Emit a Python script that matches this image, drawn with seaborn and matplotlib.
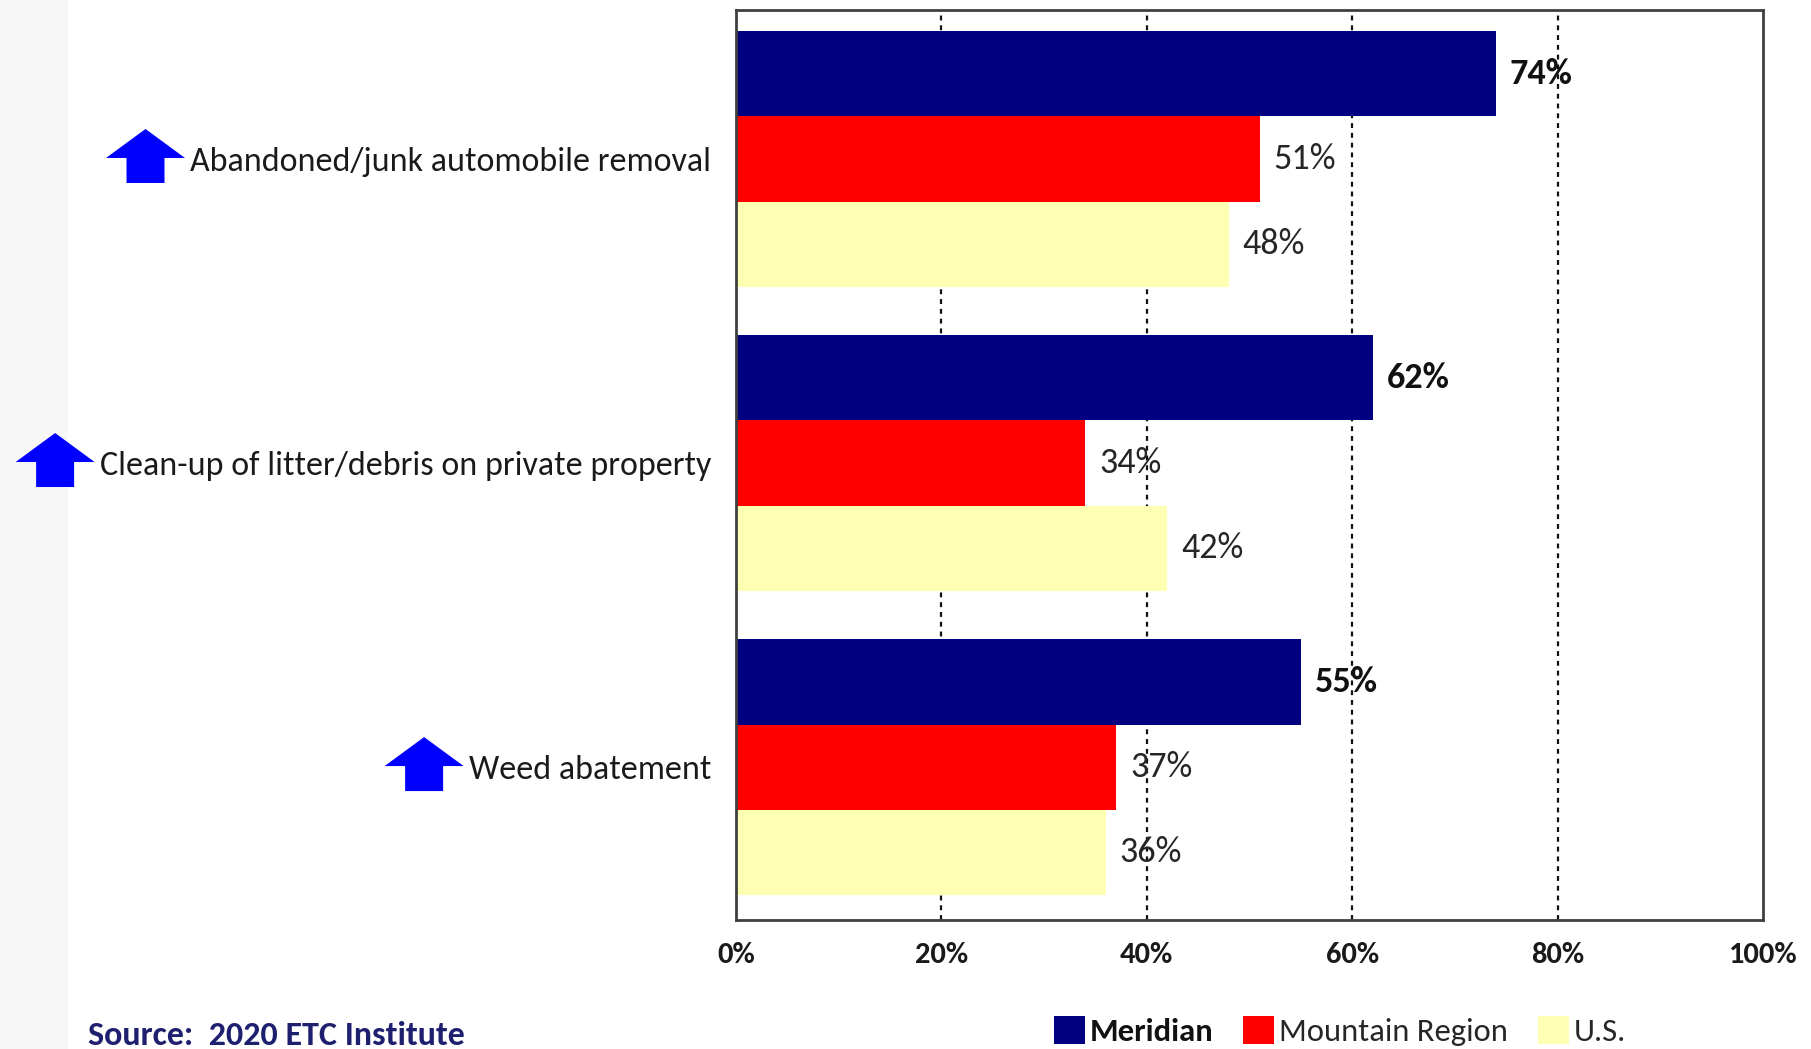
import matplotlib
matplotlib.use("Agg")
import matplotlib.pyplot as plt
from matplotlib import font_manager
from matplotlib.patches import Polygon, Rectangle
import seaborn as sns
import pandas as pd

# ---- data ----
categories = [
    "Abandoned/junk automobile removal",
    "Clean-up of litter/debris on private property",
    "Weed abatement",
]
series = ["Meridian", "Mountain Region", "U.S."]
meridian = [74, 62, 55]
mountain_region = [51, 34, 37]
us = [48, 42, 36]
tick_values = [0, 20, 40, 60, 80, 100]
tick_labels = ["0%", "20%", "40%", "60%", "80%", "100%"]
source_text = "Source:  2020 ETC Institute"

colors = ["#000080", "#FF0000", "#FFFFB3"]

rows = []
for cat, a, b, c in zip(categories, meridian, mountain_region, us):
    for s, v in zip(series, (a, b, c)):
        rows.append({"Category": cat, "Series": s, "Value": v})
df = pd.DataFrame(rows)


def pick_font(*names):
    available = {f.name for f in font_manager.fontManager.ttflist}
    for n in names:
        if n in available:
            return n
    return "DejaVu Sans"


body_font = pick_font("Carlito", "Lato", "Open Sans", "DejaVu Sans")
narrow_font = pick_font("Carlito", "Liberation Sans Narrow", "Lato", "DejaVu Sans")

sns.set_theme(style="white")
plt.rcParams["font.family"] = [body_font, "DejaVu Sans"]

W, H = 1811, 1049
fig = plt.figure(figsize=(W / 100, H / 100), dpi=100)
fig.patch.set_facecolor("white")

# faint band along the left edge of the slide
fig.add_artist(Rectangle((0, 0), 68 / W, 1, transform=fig.transFigure,
                         facecolor="#F7F7F7", edgecolor="none", zorder=0))

ax = fig.add_axes([736 / W, 1 - 920 / H, (1763 - 736) / W, (920 - 10) / H])

# dashed reference lines sit behind the bars
for t in tick_values[1:-1]:
    ax.axvline(t, color="#111111", linestyle=(0, (2.2, 2.2)), linewidth=1.6, zorder=0)

sns.barplot(data=df, y="Category", x="Value", hue="Series", order=categories,
            hue_order=series, palette=colors, orient="h", width=0.84,
            saturation=1, linewidth=0, ax=ax, legend=True, zorder=2)

ax.set_xlim(0, 100)
ax.set_ylim(2.503, -0.49)
ax.set_xlabel("")
ax.set_ylabel("")
ax.set_xticks(tick_values)
ax.set_xticklabels(tick_labels, fontfamily=narrow_font, fontweight="bold",
                   fontsize=22, color="#1a1a1a")
ax.tick_params(axis="x", length=0, pad=16)
ax.tick_params(axis="y", length=0, pad=18)
for lab in ax.get_yticklabels():
    lab.set_fontsize(24.5)
    lab.set_color("#1a1a1a")

for sp in ax.spines.values():
    sp.set_visible(True)
    sp.set_color("#404040")
    sp.set_linewidth(2)

# value labels at the end of each bar
for container, s in zip(ax.containers, series):
    bold = s == "Meridian"
    for rect, v in zip(container.patches, df[df["Series"] == s]["Value"]):
        y = rect.get_y() + rect.get_height() / 2
        ax.annotate(f"{v}%", xy=(rect.get_width(), y), xytext=(10, 0),
                    textcoords="offset points", va="center", ha="left",
                    fontsize=26, fontweight="bold" if bold else "normal",
                    color="#111111" if bold else "#262626", zorder=4)

# legend along the bottom
handles, labels = ax.get_legend_handles_labels()
ax.get_legend().remove()
leg = fig.legend(handles, labels, loc="center", bbox_to_anchor=(1340 / W, 1 - 1031 / H),
                 ncol=3, frameon=False, fontsize=23.5, handlelength=0.95,
                 handleheight=0.95, handletextpad=0.15, columnspacing=0.9,
                 borderaxespad=0)
for txt in leg.get_texts():
    txt.set_color("#262626")
    if txt.get_text() == "Meridian":
        txt.set_fontweight("bold")
        txt.set_color("#111111")

fig.text(88 / W, 1 - 1045 / H, source_text, ha="left", va="baseline", fontsize=24.5,
         fontweight="bold", color="#1F1F70")

# blue "up" arrows beside each category label
fig.canvas.draw()
renderer = fig.canvas.get_renderer()
for lab in ax.get_yticklabels():
    bb = lab.get_window_extent(renderer)
    right = bb.x0 - 5
    cy = (bb.y0 + bb.y1) / 2 + 6
    head_w, head_h, shaft_w, shaft_h = 79, 29, 38, 25
    top = cy + (head_h + shaft_h) / 2
    base = top - head_h
    bottom = base - shaft_h
    cx = right - head_w / 2
    pts = [
        (cx, top), (cx + head_w / 2, base), (cx + shaft_w / 2, base),
        (cx + shaft_w / 2, bottom), (cx - shaft_w / 2, bottom),
        (cx - shaft_w / 2, base), (cx - head_w / 2, base),
    ]
    pts = [(x / W, y / H) for x, y in pts]
    fig.add_artist(Polygon(pts, closed=True, transform=fig.transFigure,
                           facecolor="#0000FF", edgecolor="none"))

fig.savefig("out.png", dpi=100, facecolor="white")
